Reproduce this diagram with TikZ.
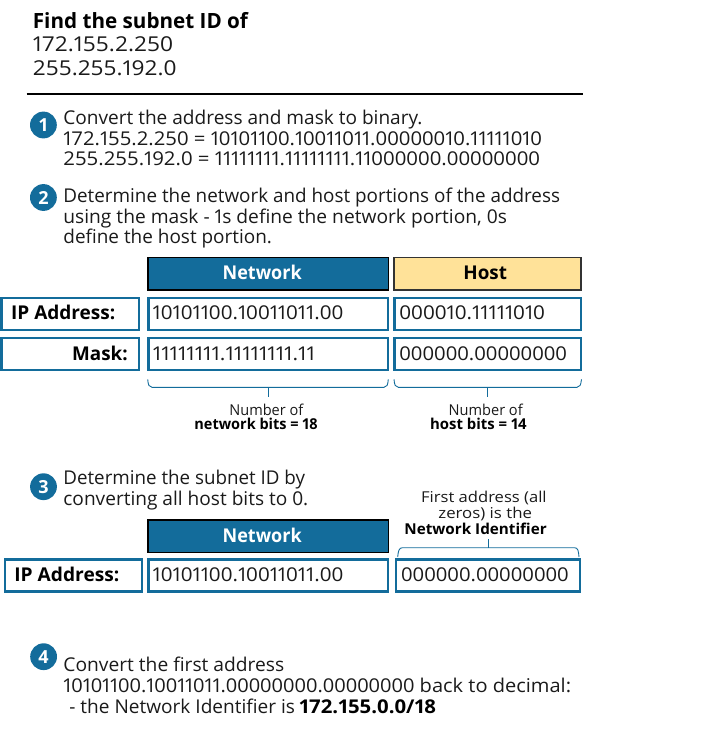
\documentclass[tikz,border=0pt]{standalone}
\usepackage{graphicx}
\usepackage{fontspec}
\setmainfont[Numbers=Proportional]{Open Sans}
\definecolor{blu}{HTML}{136C9B}
\definecolor{hostc}{HTML}{FFE299}
\definecolor{ink}{HTML}{1A1A1A}
\newcommand{\fsz}[1]{\fontsize{#1}{#1}\selectfont}
\newcommand{\ft}[2]{\resizebox{\dimexpr#1pt+1.6pt\relax}{\height}{#2}}
\tikzset{x=1pt,y=-1pt,
 txt/.style={anchor=base west,inner sep=0pt,xshift=-0.8pt,yshift=-0.8pt,text=ink,font=\fsz{19}},
 txb/.style={anchor=base west,inner sep=0pt,xshift=-0.8pt,yshift=-0.8pt,text=black,font=\fsz{19}\bfseries},
 capt/.style={anchor=base west,inner sep=0pt,xshift=-0.8pt,yshift=-0.5pt,text=ink,font=\fsz{15}},
 capb/.style={anchor=base west,inner sep=0pt,xshift=-0.8pt,yshift=-0.5pt,text=black,font=\fsz{15}\bfseries},
 badge/.style={circle,fill=blu,minimum size=26.8pt,inner sep=0pt,text=white,font=\fsz{18}\bfseries},
 cell/.style={draw=blu,line width=2.2pt,fill=white,inner sep=0pt,anchor=north west},
 headcell/.style={line width=1.3pt,inner sep=0pt,anchor=north west},
 bracket/.style={draw=blu,line width=0.9pt},
}
\newcommand{\mybox}[5]{\node[cell,minimum width=#4pt,minimum height=#5pt] (#1) at (#2,#3) {};}
\begin{document}
\begin{tikzpicture}
\useasboundingbox (0,0) rectangle (710,733);
% title
\node[txb,font=\fsz{21}\bfseries] (t1) at (33.5,27.7) {\ft{213.5}{Find the subnet ID of}};
\node[txt,font=\fsz{20.5}] (t2) at (33.5,51) {\ft{138.5}{172.155.2.250}};
\node[txt,font=\fsz{20.5}] (t3) at (33.5,74.3) {\ft{142}{255.255.192.0}};
\coordinate (ra) at (26.7,93.7); \coordinate (rb) at (583,93.7);
\draw[line width=2pt,black] (ra) -- (rb);
% step 1
\node[badge] (b1) at (43.4,125) {1};
\node[txt] (s1a) at (64,124) {\ft{357.5}{Convert the address and mask to binary.}};
\node[txt] (s1b) at (64,145) {\ft{477}{172.155.2.250 = 10101100.10011011.00000010.11111010}};
\node[txt] (s1c) at (64,165) {\ft{475}{255.255.192.0 = 11111111.11111111.11000000.00000000}};
% step 2
\node[badge] (b2) at (43.4,197.5) {2};
\node[txt] (s2a) at (64,201.7) {\ft{495}{Determine the network and host portions of the address}};
\node[txt] (s2b) at (64,223) {\ft{442}{using the mask - 1s define the network portion, 0s}};
\node[txt] (s2c) at (64,243) {\ft{207}{define the host portion.}};
% table 1
\node[headcell,draw=black,fill=blu,minimum width=240.4pt,minimum height=32.7pt] (n1) at (147.3,256.7) {};
\node[headcell,draw=black!80,fill=hostc,minimum width=187pt,minimum height=32.7pt] (h1) at (393.3,256.7) {};
\node[txb,text=white] (n1t) at (223.3,279) {\ft{77.4}{Network}};
\node[txb] (h1t) at (464,279) {\ft{42}{Host}};
\mybox{l1}{0.3}{296.7}{137.3}{32}
\mybox{l2}{0.3}{336.7}{137.3}{32}
\mybox{v1}{147.3}{296.7}{239.7}{32}
\mybox{v2}{393.3}{296.7}{186.3}{32}
\mybox{v3}{147.3}{336.7}{239.7}{32}
\mybox{v4}{393.3}{336.7}{186.3}{32}
\node[txb] (tl1) at (11.7,319) {\ft{102.6}{IP Address:}};
\node[txb] (tl2) at (72.7,360) {\ft{54}{Mask:}};
\node[txt] (tv1) at (153.3,319) {\ft{189}{10101100.10011011.00}};
\node[txt] (tv2) at (400,319) {\ft{144}{000010.11111010}};
\node[txt] (tv3) at (153.5,360) {\ft{160.5}{11111111.11111111.11}};
\node[txt] (tv4) at (400,360) {\ft{166}{000000.00000000}};
% brackets
\draw[bracket] (147.7,379.3) .. controls (148.2,385) and (149,387.3) .. (152,387.3) -- (384,387.3) .. controls (387,387.3) and (387.8,385) .. (388.3,379.3);
\draw[bracket] (268,387.3) -- (268,396.7);
\draw[bracket] (394,379.3) .. controls (394.5,385) and (395.3,387.3) .. (398.3,387.3) -- (577,387.3) .. controls (580,387.3) and (580.8,385) .. (581.5,379.3);
\draw[bracket] (487.7,387.3) -- (487.7,396.7);
\node[capt] (c1) at (230,415) {\ft{72.3}{Number of}};
\node[capb] (c2) at (195,428.5) {\ft{121.7}{network bits = 18}};
\node[capt] (c3) at (449.3,415) {\ft{72.4}{Number of}};
\node[capb] (c4) at (430.7,429) {\ft{95}{host bits = 14}};
% step 3
\node[badge] (b3) at (43.5,486.7) {3};
\node[txt] (s3a) at (64,484) {\ft{240}{Determine the subnet ID by}};
\node[txt] (s3b) at (64,505) {\ft{243.3}{converting all host bits to 0.}};
\node[capt] (c5) at (421.7,501.7) {\ft{124}{First address (all}};
\node[capt] (c6) at (439,517.5) {\ft{92}{zeros) is the}};
\node[capb] (c7) at (405,534) {\ft{140.7}{Network Identifier}};
\draw[bracket] (397.7,557) .. controls (398.2,551) and (399,547.7) .. (402.5,547.7) -- (574.5,547.7) .. controls (578,547.7) and (578.5,551) .. (579,557);
\draw[bracket] (488.3,547.7) -- (488.3,539);
\node[headcell,draw=black,fill=blu,minimum width=240.4pt,minimum height=32.7pt] (n2) at (147.3,519.3) {};
\node[txb,text=white] (n2t) at (223.3,541.7) {\ft{77.4}{Network}};
\mybox{l3}{3.7}{558.3}{137}{32}
\mybox{v5}{147.3}{558.3}{239.7}{32}
\mybox{v6}{395}{558.3}{184}{32}
\node[txb] (tl3) at (15,580.7) {\ft{103.3}{IP Address:}};
\node[txt] (tv5) at (153.3,580.7) {\ft{189}{10101100.10011011.00}};
\node[txt] (tv6) at (401.7,580.5) {\ft{166}{000000.00000000}};
% step 4
\node[badge] (b4) at (43.6,656.7) {4};
\node[txt] (s4a) at (64,671) {\ft{219.3}{Convert the first address}};
\node[txt] (s4b) at (64,691.7) {\ft{506}{10101100.10011011.00000000.00000000 back to decimal:}};
\node[txt] (s4c) at (70,712.7) {\ft{224}{- the Network Identifier is}};
\node[txb] (s4d) at (300,712.7) {\ft{135}{172.155.0.0/18}};
\end{tikzpicture}
\end{document}
